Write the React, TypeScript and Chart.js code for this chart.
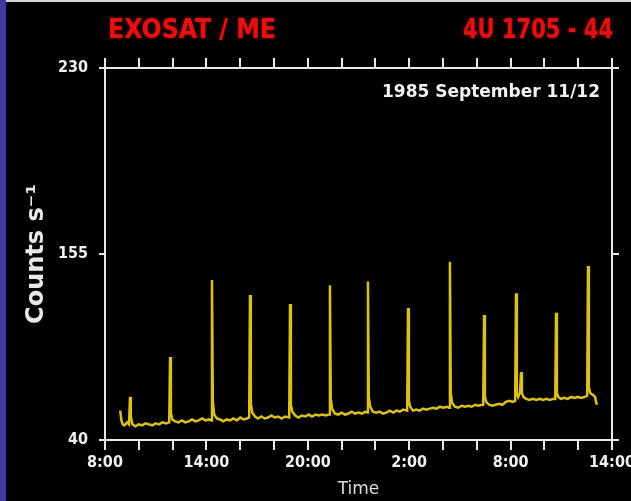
import React, { useEffect, useRef } from 'react';
import { Chart, registerables } from 'chart.js';

Chart.register(...registerables);

// Time in hours after 8:00 (day 1)
const hours = [
  0.90, 0.97, 1.05, 1.15, 1.30, 1.42, 1.48, 1.53, 1.62, 1.80, 2.00, 2.20, 2.40, 2.60, 2.80, 3.00, 3.20, 3.40, 3.60, 3.80,
  3.85, 3.90, 3.98, 4.15, 4.35, 4.55, 4.75, 4.95, 5.15, 5.35, 5.55, 5.75, 5.95, 6.15, 6.28,
  6.33, 6.38, 6.46, 6.62, 6.80, 7.00, 7.20, 7.40, 7.60, 7.80, 8.00, 8.20, 8.40, 8.53,
  8.58, 8.63, 8.71, 8.88, 9.05, 9.25, 9.45, 9.65, 9.85, 10.05, 10.25, 10.45, 10.65, 10.90,
  10.95, 11.00, 11.08, 11.25, 11.45, 11.65, 11.85, 12.05, 12.25, 12.45, 12.65, 12.85, 13.05, 13.26,
  13.31, 13.36, 13.44, 13.60, 13.80, 14.00, 14.20, 14.40, 14.60, 14.80, 15.00, 15.20, 15.40, 15.51,
  15.56, 15.61, 15.69, 15.85, 16.05, 16.25, 16.45, 16.65, 16.85, 17.05, 17.25, 17.45, 17.65, 17.88,
  17.93, 17.98, 18.06, 18.22, 18.42, 18.62, 18.82, 19.02, 19.22, 19.42, 19.62, 19.82, 20.02, 20.22, 20.36,
  20.41, 20.46, 20.54, 20.70, 20.90, 21.10, 21.30, 21.50, 21.70, 21.90, 22.10, 22.30, 22.38,
  22.43, 22.48, 22.56, 22.72, 22.92, 23.12, 23.32, 23.52, 23.72, 23.92, 24.12, 24.27,
  24.32, 24.37, 24.45, 24.55, 24.62, 24.67, 24.76, 24.92, 25.12, 25.32, 25.52, 25.72, 25.92, 26.12, 26.32, 26.52, 26.64,
  26.69, 26.74, 26.82, 26.98, 27.18, 27.38, 27.58, 27.78, 27.98, 28.18, 28.38, 28.53,
  28.58, 28.63, 28.71, 28.87, 29.00, 29.10,
];

const counts = [
  55, 50, 48, 47.5, 49, 48, 62, 52, 48, 47, 48, 47.5, 48.5, 48, 47.5, 48.5, 48, 49, 48.5, 49,
  82.4, 54, 50.5, 49.5, 49, 50, 49, 49.5, 50.5, 49.5, 50, 51, 50, 50.5, 50,
  121.7, 60, 53, 51, 50.5, 49.5, 50.5, 50, 51, 50, 51.5, 50.5, 51, 51.5,
  114, 59, 54, 52, 51, 52, 51, 51.5, 52.5, 51.5, 52, 51, 52, 51.5,
  109.5, 58, 54.5, 52.5, 51.5, 52.5, 52, 53, 52, 53, 52.5, 53, 52.5, 53,
  119, 61, 56, 53.5, 53, 54, 53, 53.5, 54.5, 53.5, 54, 53.5, 54.5, 54,
  121, 62, 57, 54.5, 54, 54.5, 53.5, 54, 55, 54, 55, 54.5, 55.5, 55,
  107.4, 60, 57, 55, 55.5, 55, 56, 55.5, 56, 56.5, 56, 57, 56.5, 57, 56.5,
  131, 64, 59, 57, 56.5, 57.5, 57, 57.5, 57, 58, 57.5, 58, 58,
  103.8, 62, 59.5, 58, 57.5, 58, 58.5, 58, 59.5, 60, 59.5, 60,
  115, 64, 62, 64, 74.7, 64, 62, 61, 60.5, 61, 60.5, 61, 60.5, 61, 60.5, 61, 61,
  105, 64, 62, 61, 61.5, 61, 62, 61.5, 62, 61.5, 62, 62.5,
  128.9, 67, 64, 63, 62, 58,
];

const yTickValues = [40, 135, 230];
const yTickLabels = ['40', '155', '230'];
const xTickLabels = ['8:00', '14:00', '20:00', '2:00', '8:00', '14:00'];
const titleLeft = 'EXOSAT / ME';
const titleRight = '4U 1705 - 44';
const dateNote = '1985 September 11/12';
const yTitle = 'Counts s\u207B\u00B9';
const xTitle = 'Time';

const AXIS_COLOR = '#e8e8e8';
const LINE_COLOR = '#d9c020';
const COND = '"DejaVu Sans Condensed", "DejaVu Sans", sans-serif';

function fitText(ctx: CanvasRenderingContext2D, text: string, x: number, y: number, width: number, font: string, color: string) {
  ctx.save();
  ctx.font = font;
  const w = ctx.measureText(text).width;
  ctx.translate(x, y);
  ctx.scale(width / w, 1);
  ctx.fillStyle = color;
  ctx.textBaseline = 'middle';
  ctx.textAlign = 'left';
  ctx.fillText(text, 0, 0);
  ctx.restore();
}

const decorPlugin = {
  id: 'decor',
  beforeDraw(chart: any) {
    const ctx = chart.ctx as CanvasRenderingContext2D;
    ctx.save();
    ctx.fillStyle = '#000000';
    ctx.fillRect(0, 0, chart.width, chart.height);
    ctx.fillStyle = '#3a3aa2';
    ctx.fillRect(0, 0, 6, chart.height);
    ctx.fillStyle = '#d8d8d8';
    ctx.fillRect(6, 0, chart.width - 6, 2);
    ctx.restore();
  },
  afterDraw(chart: any) {
    const ctx = chart.ctx as CanvasRenderingContext2D;
    const red = '#e01212';
    ctx.save();
    ctx.shadowColor = 'rgba(255,0,0,0.7)';
    ctx.shadowBlur = 3;
    fitText(ctx, titleLeft, 108, 31, 168, 'bold 26px ' + COND, red);
    fitText(ctx, titleRight, 463, 31, 150, 'bold 26px ' + COND, red);
    ctx.restore();
    fitText(ctx, dateNote, 382, 92, 218, 'bold 18px ' + COND, '#f2f2f2');
  },
};

export default function App() {
  const ref = useRef<HTMLCanvasElement>(null);

  useEffect(() => {
    document.body.style.margin = '0';
    document.body.style.background = '#000';
    const canvas = ref.current;
    if (!canvas) return;
    const points = hours.map((h, i) => ({ x: h, y: counts[i] }));
    const gridCommon = {
      display: true,
      drawOnChartArea: false,
      drawTicks: true,
      color: AXIS_COLOR,
      lineWidth: 2,
    };
    const chart = new Chart(canvas, {
      type: 'line',
      data: {
        datasets: [
          {
            data: points,
            borderColor: LINE_COLOR,
            borderWidth: 2.5,
            pointRadius: 0,
            tension: 0,
            fill: false,
          },
        ],
      },
      plugins: [decorPlugin],
      options: {
        animation: false,
        responsive: false,
        devicePixelRatio: 1,
        layout: { padding: { left: 6, right: 11, top: 58, bottom: 0 } },
        plugins: { legend: { display: false }, tooltip: { enabled: false }, title: { display: false } },
        scales: {
          x: {
            type: 'linear',
            position: 'bottom',
            min: 0,
            max: 30,
            afterFit: (s: any) => { s.height = 61; s.paddingLeft = 0; s.paddingRight = 0; },
            grid: { ...gridCommon, tickLength: 10 },
            border: { display: true, color: AXIS_COLOR, width: 2 },
            ticks: {
              stepSize: 2,
              autoSkip: false,
              maxRotation: 0,
              padding: 3,
              color: '#f0f0f0',
              font: { family: COND, size: 16, weight: 'bold' },
              callback: (v: any) => (Number(v) % 6 === 0 ? xTickLabels[Number(v) / 6] : ''),
            },
            title: {
              display: true,
              text: xTitle,
              color: '#dcdcdc',
              font: { family: '"DejaVu Sans", sans-serif', size: 17 },
              padding: { top: 0, bottom: 1 },
            },
          },
          x2: {
            type: 'linear',
            position: 'top',
            min: 0,
            max: 30,
            afterFit: (s: any) => { s.height = 10; s.paddingLeft = 0; s.paddingRight = 0; },
            grid: { ...gridCommon, tickLength: 10 },
            border: { display: true, color: AXIS_COLOR, width: 2 },
            ticks: { stepSize: 2, autoSkip: false, display: false },
          },
          y: {
            type: 'linear',
            position: 'left',
            min: 40,
            max: 230,
            afterFit: (s: any) => { s.width = 99; s.paddingTop = 0; s.paddingBottom = 0; },
            afterBuildTicks: (s: any) => { s.ticks = yTickValues.map((v) => ({ value: v })); },
            grid: { ...gridCommon, tickLength: 6 },
            border: { display: true, color: AXIS_COLOR, width: 2 },
            ticks: {
              padding: 11,
              color: '#f0f0f0',
              font: { family: COND, size: 16, weight: 'bold' },
              callback: (v: any) => yTickLabels[yTickValues.indexOf(Number(v))] ?? '',
            },
            title: {
              display: true,
              text: yTitle,
              color: '#e8e8e8',
              font: { family: '"DejaVu Sans", sans-serif', size: 24, weight: 'bold' },
              padding: { top: 16, bottom: 0 },
            },
          },
          y2: {
            type: 'linear',
            position: 'right',
            min: 40,
            max: 230,
            afterFit: (s: any) => { s.width = 8; s.paddingTop = 0; s.paddingBottom = 0; },
            afterBuildTicks: (s: any) => { s.ticks = yTickValues.map((v) => ({ value: v })); },
            grid: { ...gridCommon, tickLength: 7 },
            border: { display: true, color: AXIS_COLOR, width: 2 },
            ticks: { display: false },
          },
        },
      } as any,
    });
    return () => chart.destroy();
  }, []);

  return (
    <div style={{ width: 631, height: 501, background: '#000' }}>
      <canvas ref={ref} width={631} height={501} style={{ display: 'block' }} />
    </div>
  );
}
